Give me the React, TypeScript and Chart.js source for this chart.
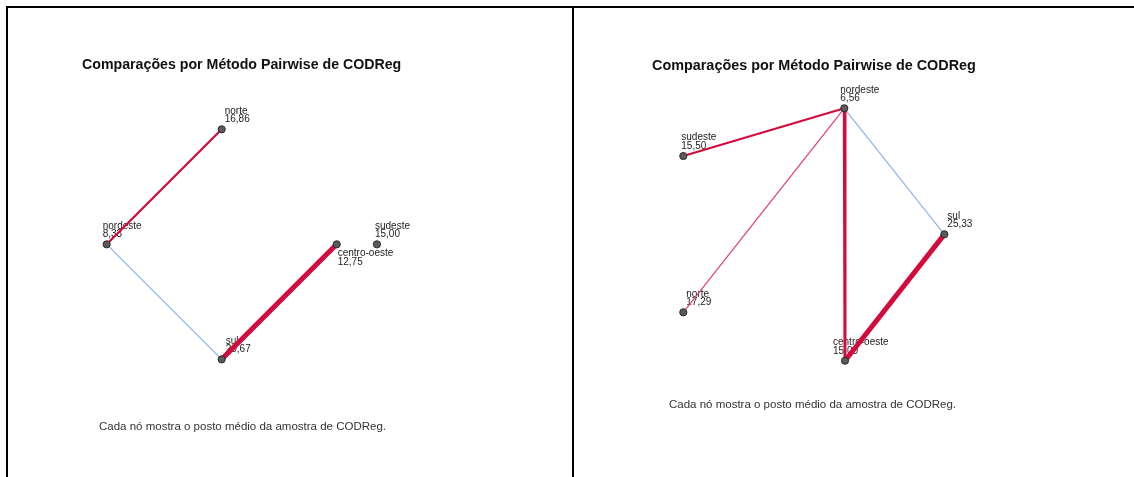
import React, { useEffect, useRef } from 'react';
import { Chart, registerables } from 'chart.js';

Chart.register(...registerables);

const titleText = 'Comparações por Método Pairwise de CODReg';
const footText = 'Cada nó mostra o posto médio da amostra de CODReg.';

// ---- Left panel data ----
const leftNames = ['norte', 'nordeste', 'centro-oeste', 'sul', 'sudeste'];
const leftRanks = [16.86, 8.33, 12.75, 20.67, 15.0];
const leftLayoutX = [1, 0, 2, 1, 2.35];
const leftLayoutY = [0, 1, 1, 2, 1];
const leftEdgeFrom = ['nordeste', 'nordeste', 'sul'];
const leftEdgeTo = ['norte', 'sul', 'centro-oeste'];
const leftEdgeSignificant = [true, false, true];

// ---- Right panel data ----
const rightNames = ['nordeste', 'sudeste', 'sul', 'norte', 'centro-oeste'];
const rightRanks = [6.56, 15.5, 25.33, 17.29, 15.0];
const rightLayoutX = [1.4, 0, 2.27, 0, 1.406];
const rightLayoutY = [0, 0.415, 1.096, 1.774, 2.195];
const rightEdgeFrom = ['nordeste', 'nordeste', 'nordeste', 'nordeste', 'sul'];
const rightEdgeTo = ['sudeste', 'norte', 'centro-oeste', 'sul', 'centro-oeste'];
const rightEdgeSignificant = [true, true, true, false, true];

// ---- Styles ----
const RED = '#d40a3c';
const BLUE = '#8ab5ea';
const leftEdgeWidths = [2.2, 1.2, 5];
const leftEdgeColors = [RED, BLUE, RED];
const rightEdgeWidths = [2.2, 1.3, 3, 1.2, 5];
const rightEdgeColors = [RED, '#e2486c', RED, BLUE, RED];
const leftLabelDx = [3, -4, 1, 4, -2];
const leftLabelBelow = [false, false, true, false, false];
const rightLabelDx = [-4, -2, 3, 3, -12];
const rightLabelBelow = [false, false, false, false, false];

const FONT = '"Liberation Sans", Arial, Helvetica, sans-serif';

type PanelProps = {
  names: string[];
  ranks: number[];
  lx: number[];
  ly: number[];
  from: string[];
  to: string[];
  sig: boolean[];
  widths: number[];
  colors: string[];
  labelDx: number[];
  labelBelow: boolean[];
  xMin: number;
  xMax: number;
  yMin: number;
  yMax: number;
  width: number;
  height: number;
  left: number;
  top: number;
  titleX: number;
  titleY: number;
  titleSize: number;
  footX: number;
  footY: number;
};

const fmt = (v: number) => v.toFixed(2).replace('.', ',');

function Panel(p: PanelProps) {
  const ref = useRef<HTMLCanvasElement | null>(null);
  useEffect(() => {
    if (!ref.current) return;
    const pt = (n: string) => {
      const i = p.names.indexOf(n);
      return { x: p.lx[i], y: p.ly[i] };
    };
    const edgeSets = p.from.map((f, i) => ({
      type: 'line' as const,
      label: `${f}-${p.to[i]}${p.sig[i] ? ' (sig.)' : ''}`,
      data: [pt(f), pt(p.to[i])],
      showLine: true,
      borderColor: p.colors[i],
      borderWidth: p.widths[i],
      borderCapStyle: 'round' as const,
      pointRadius: 0,
      fill: false,
      order: 2,
    }));
    const nodeSet = {
      type: 'scatter' as const,
      data: p.names.map((_, i) => ({ x: p.lx[i], y: p.ly[i] })),
      pointRadius: 3.6,
      pointBackgroundColor: '#5a5a5a',
      pointBorderColor: '#2a2a2a',
      pointBorderWidth: 1,
      showLine: false,
      order: 1,
    };
    const textPlugin = {
      id: 'panelText',
      beforeDatasetsDraw(chart: any) {
        const ctx = chart.ctx;
        const xs = chart.scales.x;
        const ys = chart.scales.y;
        ctx.save();
        ctx.textBaseline = 'middle';
        ctx.textAlign = 'left';
        ctx.fillStyle = '#111';
        ctx.font = `bold ${p.titleSize}px ${FONT}`;
        ctx.fillText(titleText, p.titleX, p.titleY);
        ctx.fillStyle = '#333';
        ctx.font = `11.5px ${FONT}`;
        ctx.fillText(footText, p.footX, p.footY);
        ctx.fillStyle = '#222';
        ctx.font = `10px ${FONT}`;
        p.names.forEach((n, i) => {
          const px = xs.getPixelForValue(p.lx[i]) + p.labelDx[i];
          const py = ys.getPixelForValue(p.ly[i]);
          const y1 = p.labelBelow[i] ? py + 9 : py - 18.5;
          ctx.fillText(n, px, y1);
          ctx.fillText(fmt(p.ranks[i]), px, y1 + 8.8);
        });
        ctx.restore();
      },
    };
    const chart = new Chart(ref.current, {
      type: 'scatter',
      data: { datasets: [...edgeSets, nodeSet] as any },
      options: {
        animation: false,
        responsive: false,
        maintainAspectRatio: false,
        devicePixelRatio: 1,
        layout: { padding: 0, autoPadding: false },
        events: [],
        scales: {
          x: { type: 'linear', display: false, min: p.xMin, max: p.xMax },
          y: { type: 'linear', display: false, min: p.yMin, max: p.yMax, reverse: true },
        },
        plugins: {
          legend: { display: false },
          tooltip: { enabled: false },
          title: { display: false },
        },
      },
      plugins: [textPlugin],
    });
    return () => chart.destroy();
  }, []);
  return (
    <canvas
      ref={ref}
      width={p.width}
      height={p.height}
      style={{ position: 'absolute', left: p.left, top: p.top, width: p.width, height: p.height, display: 'block' }}
    />
  );
}

export default function App() {
  return (
    <div style={{ position: 'absolute', left: 0, top: 0, width: 1134, height: 477, background: '#fff', overflow: 'hidden' }}>
      <div style={{ position: 'absolute', left: 6, top: 6, width: 1128, height: 2, background: '#000' }} />
      <div style={{ position: 'absolute', left: 6, top: 6, width: 2, height: 471, background: '#000' }} />
      <div style={{ position: 'absolute', left: 572, top: 6, width: 2, height: 471, background: '#000' }} />
      <Panel
        names={leftNames}
        ranks={leftRanks}
        lx={leftLayoutX}
        ly={leftLayoutY}
        from={leftEdgeFrom}
        to={leftEdgeTo}
        sig={leftEdgeSignificant}
        widths={leftEdgeWidths}
        colors={leftEdgeColors}
        labelDx={leftLabelDx}
        labelBelow={leftLabelBelow}
        xMin={-0.858}
        xMax={4.046}
        yMin={-1.055}
        yMax={3.023}
        width={564}
        height={469}
        left={8}
        top={8}
        titleX={74}
        titleY={57}
        titleSize={14.2}
        footX={91}
        footY={419}
      />
      <Panel
        names={rightNames}
        ranks={rightRanks}
        lx={rightLayoutX}
        ly={rightLayoutY}
        from={rightEdgeFrom}
        to={rightEdgeTo}
        sig={rightEdgeSignificant}
        widths={rightEdgeWidths}
        colors={rightEdgeColors}
        labelDx={rightLabelDx}
        labelBelow={rightLabelBelow}
        xMin={-0.9504}
        xMax={3.919}
        yMin={-0.872}
        yMax={3.206}
        width={560}
        height={469}
        left={574}
        top={8}
        titleX={78}
        titleY={58}
        titleSize={14.4}
        footX={95}
        footY={397}
      />
    </div>
  );
}
